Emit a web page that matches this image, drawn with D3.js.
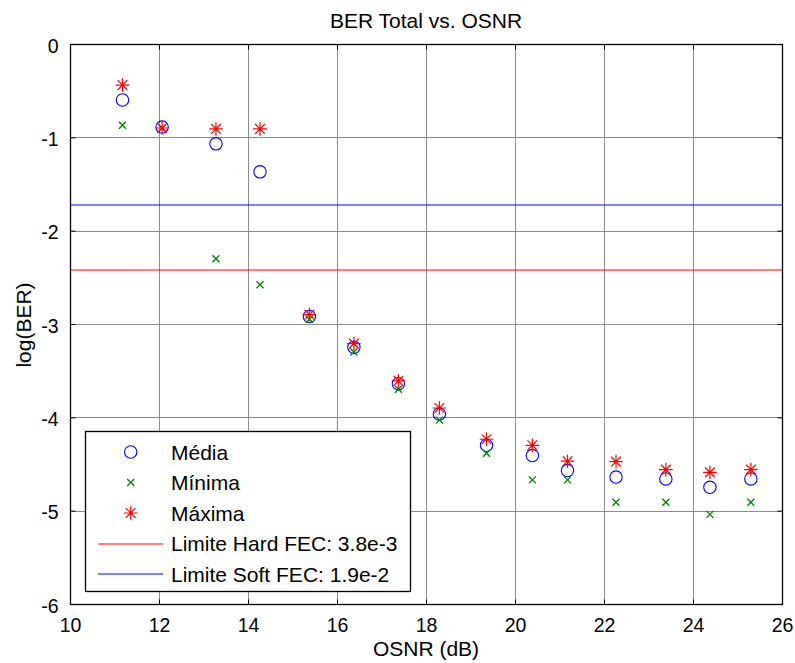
<!DOCTYPE html>
<html>
<head>
<meta charset="utf-8">
<script src="https://cdn.jsdelivr.net/npm/d3@7"></script>
<style>
  html, body { margin: 0; padding: 0; background: #fff; }
  svg { display: block; font-family: "Liberation Sans", Arial, sans-serif; }
</style>
</head>
<body>
<svg id="chart" width="795" height="663"></svg>
<script>
// ---- data ----
const osnr   = [11.18, 12.07, 13.28, 14.27, 15.38, 16.38, 17.38, 18.30, 19.36, 20.39, 21.18, 22.27, 23.39, 24.38, 25.30];
const media  = [-0.60, -0.89, -1.07, -1.37, -2.92, -3.25, -3.64, -3.965, -4.30, -4.41, -4.57, -4.64, -4.66, -4.75, -4.66];
const minima = [-0.87, -0.90, -2.30, -2.58, -2.95, -3.30, -3.70, -4.03, -4.385, -4.67, -4.67, -4.91, -4.91, -5.04, -4.91];
const maxima = [-0.44, -0.90, -0.91, -0.91, -2.90, -3.21, -3.61, -3.90, -4.235, -4.30, -4.47, -4.475, -4.56, -4.59, -4.56];
const fecLimits = [3.8e-3, 1.9e-2];
const fecLabels = ["Limite Hard FEC: 3.8e-3", "Limite Soft FEC: 1.9e-2"];
const fecColors = ["#ff0000", "#0000ff"];
const xTicks = [10, 12, 14, 16, 18, 20, 22, 24, 26];
const yTicks = [0, -1, -2, -3, -4, -5, -6];
const seriesNames = ["Média", "Mínima", "Máxima"];
const titleText = "BER Total vs. OSNR";
const xLabel = "OSNR (dB)";
const yLabel = "log(BER)";

// ---- layout ----
const L = 70, T = 44, W = 712, H = 560;
const svg = d3.select("#chart");
const x = d3.scaleLinear().domain([10, 26]).range([L, L + W]);
const y = d3.scaleLinear().domain([-6, 0]).range([T + H, T]);

// grid
const grid = svg.append("g");
grid.selectAll("line.gx").data(xTicks.slice(1, -1)).join("line")
  .attr("x1", d => Math.round(x(d)) + 0.5).attr("x2", d => Math.round(x(d)) + 0.5)
  .attr("y1", T).attr("y2", T + H)
  .attr("stroke", "#8c8c8c").attr("stroke-width", 1);
grid.selectAll("line.gy").data(yTicks.slice(1, -1)).join("line")
  .attr("y1", d => Math.round(y(d)) + 0.5).attr("y2", d => Math.round(y(d)) + 0.5)
  .attr("x1", L).attr("x2", L + W)
  .attr("stroke", "#8c8c8c").attr("stroke-width", 1);

// FEC limit lines
svg.append("g").selectAll("line").data(fecLimits).join("line")
  .attr("x1", L).attr("x2", L + W)
  .attr("y1", d => Math.round(y(Math.log10(d))))
  .attr("y2", d => Math.round(y(Math.log10(d))))
  .attr("stroke", (d, i) => fecColors[i]).attr("stroke-width", 1);

// marker paths
function starPath(r) {
  const p = d3.path(); const t = r * 0.72;
  p.moveTo(-r, 0); p.lineTo(r, 0);
  p.moveTo(0, -r); p.lineTo(0, r);
  p.moveTo(-t, -t); p.lineTo(t, t);
  p.moveTo(-t, t); p.lineTo(t, -t);
  return p.toString();
}
function xPath(r) {
  const p = d3.path();
  p.moveTo(-r, -r); p.lineTo(r, r);
  p.moveTo(-r, r); p.lineTo(r, -r);
  return p.toString();
}
const mColors = ["#0000ff", "#008000", "#ff0000"];

// Média circles
svg.append("g").selectAll("circle").data(osnr).join("circle")
  .attr("cx", (d) => x(d)).attr("cy", (d, i) => y(media[i])).attr("r", 6.2)
  .attr("fill", "none").attr("stroke", mColors[0]).attr("stroke-width", 1.1);
// Mínima x
svg.append("g").selectAll("path").data(osnr).join("path")
  .attr("transform", (d, i) => `translate(${x(d)},${y(minima[i])})`)
  .attr("d", xPath(3.5))
  .attr("fill", "none").attr("stroke", mColors[1]).attr("stroke-width", 1.3);
// Máxima asterisks
svg.append("g").selectAll("path").data(osnr).join("path")
  .attr("transform", (d, i) => `translate(${x(d)},${y(maxima[i])})`)
  .attr("d", starPath(6.8))
  .attr("fill", "none").attr("stroke", mColors[2]).attr("stroke-width", 1.2);

// axes box
svg.append("rect").attr("x", L + 0.5).attr("y", T + 0.5).attr("width", W).attr("height", H)
  .attr("fill", "none").attr("stroke", "#000").attr("stroke-width", 1.3);

// axes with inward ticks
const fs = "19.5px";
const axB = svg.append("g").attr("transform", `translate(0,${T + H + 0.5})`)
  .call(d3.axisBottom(x).tickValues(xTicks).tickSize(-5).tickPadding(14).tickFormat(d => String(d)));
const axT = svg.append("g").attr("transform", `translate(0,${T + 0.5})`)
  .call(d3.axisTop(x).tickValues(xTicks).tickSize(-5).tickFormat(""));
const axL = svg.append("g").attr("transform", `translate(${L + 0.5},0)`)
  .call(d3.axisLeft(y).tickValues(yTicks).tickSize(-5).tickPadding(12).tickFormat(d => String(d)));
const axR = svg.append("g").attr("transform", `translate(${L + W + 0.5},0)`)
  .call(d3.axisRight(y).tickValues(yTicks).tickSize(-5).tickFormat(""));
[axB, axT, axL, axR].forEach(a => {
  a.select(".domain").remove();
  a.selectAll(".tick line").attr("stroke", "#000");
  a.selectAll("text").attr("font-size", fs).attr("fill", "#000")
    .attr("font-family", "'Liberation Sans', Arial, sans-serif");
});
axL.selectAll("text").attr("dy", "0.42em");

// title and labels
svg.append("text").attr("x", L + W / 2).attr("y", 28).attr("text-anchor", "middle")
  .attr("font-size", "21px").text(titleText);
svg.append("text").attr("x", L + W / 2).attr("y", 656).attr("text-anchor", "middle")
  .attr("font-size", "21px").text(xLabel);
svg.append("text").attr("transform", "translate(31,325) rotate(-90)").attr("text-anchor", "middle")
  .attr("font-size", "21px").text(yLabel);

// legend
const lg = svg.append("g");
lg.append("rect").attr("x", 85.5).attr("y", 431.5).attr("width", 325).attr("height", 160)
  .attr("fill", "#fff").attr("stroke", "#000").attr("stroke-width", 1.3);
const rowY = i => 452 + i * 30.5;
const mx = 130.7;
lg.append("circle").attr("cx", mx).attr("cy", rowY(0)).attr("r", 6.2)
  .attr("fill", "none").attr("stroke", mColors[0]).attr("stroke-width", 1.1);
lg.append("path").attr("transform", `translate(${mx},${rowY(1)})`).attr("d", xPath(3.5))
  .attr("fill", "none").attr("stroke", mColors[1]).attr("stroke-width", 1.3);
lg.append("path").attr("transform", `translate(${mx},${rowY(2)})`).attr("d", starPath(6.8))
  .attr("fill", "none").attr("stroke", mColors[2]).attr("stroke-width", 1.2);
fecLabels.forEach((lab, i) => {
  lg.append("line").attr("x1", 98).attr("x2", 163)
    .attr("y1", Math.round(rowY(3 + i))).attr("y2", Math.round(rowY(3 + i)))
    .attr("stroke", fecColors[i]).attr("stroke-width", 1);
});
const legendLabels = seriesNames.concat(fecLabels);
lg.selectAll("text").data(legendLabels).join("text")
  .attr("x", 171).attr("y", (d, i) => rowY(i)).attr("dy", "0.36em")
  .attr("font-size", "21px").text(d => d);
</script>
</body>
</html>
